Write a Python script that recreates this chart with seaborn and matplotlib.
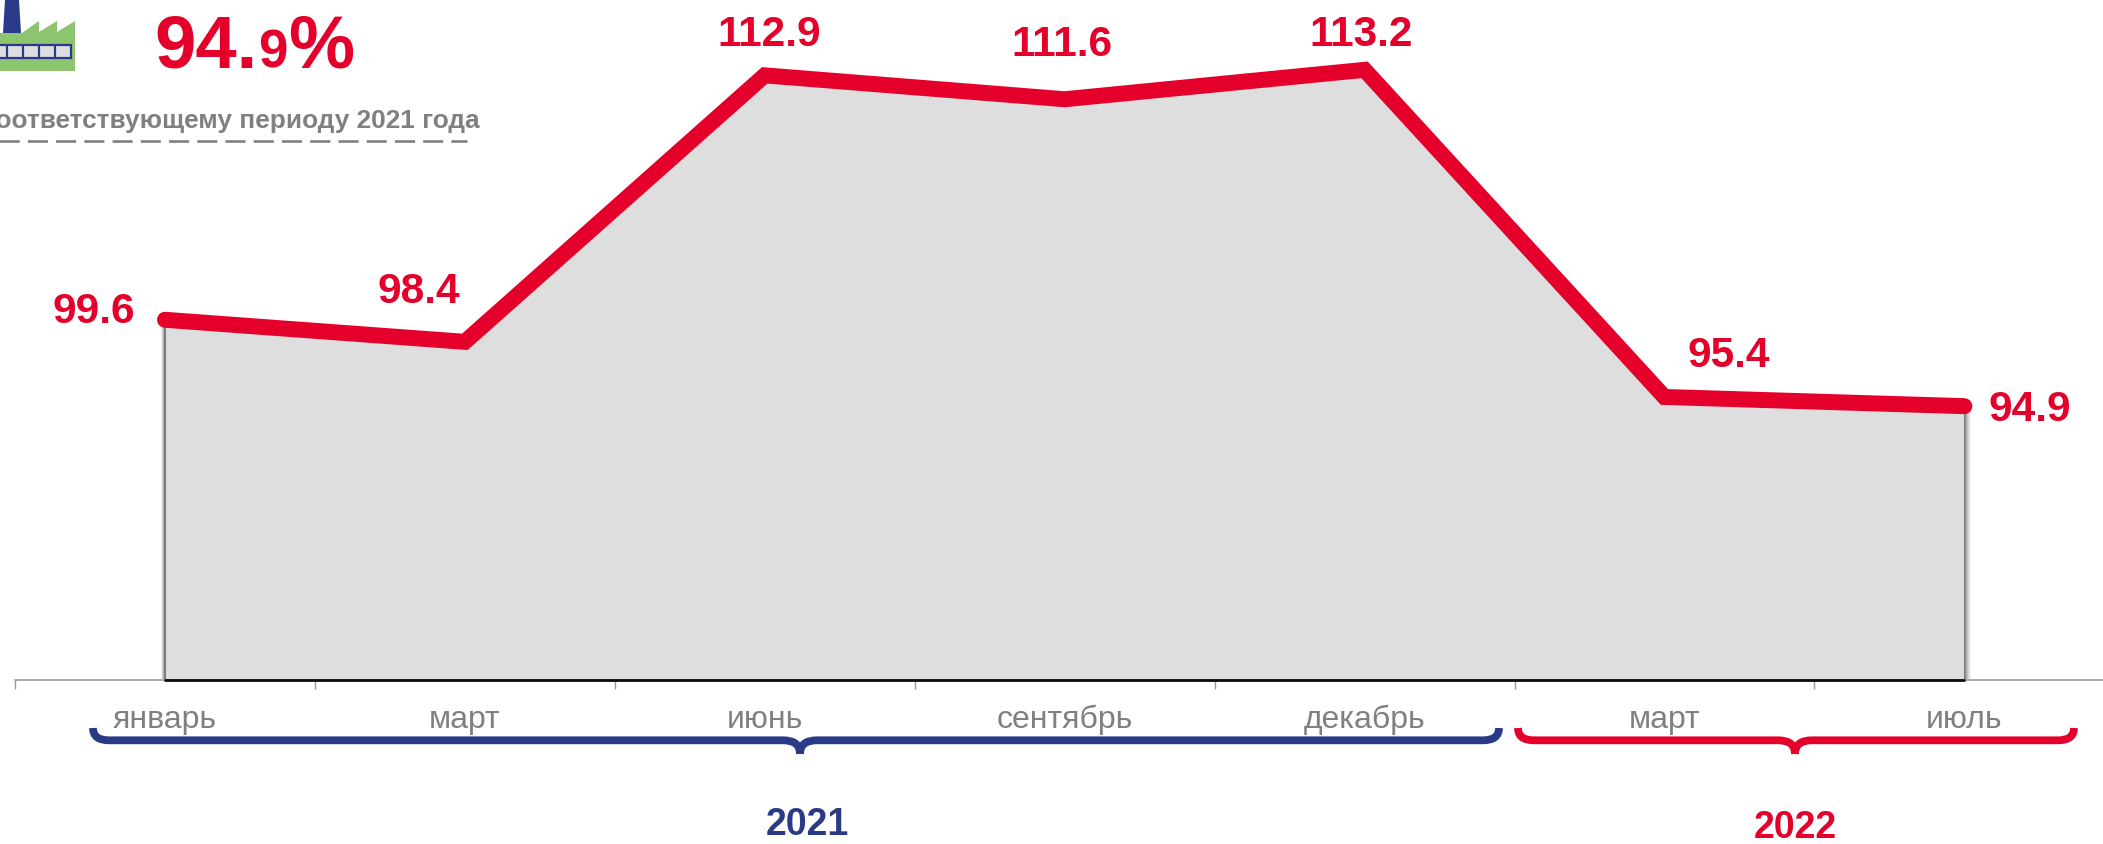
import numpy as np
import pandas as pd
import matplotlib
matplotlib.use("Agg")
import matplotlib.pyplot as plt
from matplotlib.path import Path
from matplotlib.patches import PathPatch, Polygon, Rectangle
from matplotlib.transforms import ScaledTranslation
import seaborn as sns

months = ["январь", "март", "июнь", "сентябрь", "декабрь", "март", "июль"]
values = [99.6, 98.4, 112.9, 111.6, 113.2, 95.4, 94.9]
headline_parts = ["94.", "9", "%"]
subtitle = "соответствующему периоду 2021 года"
year_labels = ["2021", "2022"]

RED = "#E4002B"
BLUE = "#2A3A86"
GRAY = "#808080"
AREA = "#DEDEDE"

sns.set_theme(style="white")
plt.rcParams["font.family"] = ["Liberation Sans", "DejaVu Sans"]

W, H = 2103, 844
fig = plt.figure(figsize=(W / 100, H / 100), dpi=100, facecolor="white")
ax = fig.add_axes([15 / W, 1 - 680 / H, (W - 15) / W, 680 / H])
ax.set_facecolor("none")

df = pd.DataFrame({"pos": np.arange(len(values)), "value": values})
ymin = 80
ax.fill_between(df["pos"], df["value"], ymin, color=AREA, lw=0, zorder=1)


def shade(i, top, steps):
    for dx, col in steps:
        tr = ax.transData + ScaledTranslation(dx / 100, 0, fig.dpi_scale_trans)
        ax.plot([i, i], [ymin, top], color=col, lw=0.8, zorder=1.5, transform=tr,
                solid_capstyle="butt", clip_on=False)


shade(0, values[0], [(-4, "#f2f2f2"), (-3, "#d5d5d5"), (-2, "#b0b0b0"), (-1, "#808080"), (0, "#808080")])
shade(len(values) - 1, values[-1], [(6, "#f5f5f5"), (5, "#e8e8e8"), (4, "#d8d8d8"), (3, "#c4c4c4"),
                                   (2, "#aeaeae"), (1, "#949494"), (0, "#7d7d7d")])
ax.plot([0, len(values) - 1], [ymin, ymin], color="#0c0c0c", lw=2, zorder=3, clip_on=False)
sns.lineplot(data=df, x="pos", y="value", ax=ax, color=RED, lw=11.5, zorder=4,
             solid_capstyle="round", solid_joinstyle="miter", errorbar=None, legend=False)

band = 299.9
ax.set_xlabel("")
ax.set_ylabel("")
ax.set_yticks([])
ax.set_xticks(np.arange(len(values) + 1) - 0.5)
ax.set_xticklabels([])
ax.set_xticks(np.arange(len(values)), labels=months, minor=True)
ax.set_xlim(-0.5, -0.5 + (W - 15) / band)
ax.set_ylim(ymin, 117)
ax.tick_params(axis="x", which="major", length=6.5, width=1, color="#9a9a9a", bottom=True)
ax.tick_params(axis="x", which="minor", length=0, pad=18, labelsize=23, labelcolor=GRAY)
for s in ["top", "left", "right"]:
    ax.spines[s].set_visible(False)
ax.spines["bottom"].set_color("#aaaaaa")
ax.spines["bottom"].set_linewidth(1.4)

offsets = [(-71, 8), (-46, 50), (4, 40), (-3, 54), (-3, 35), (64, 41), (65, -4)]
for i, (v, off) in enumerate(zip(values, offsets)):
    ax.annotate(f"{v:.1f}", xy=(i, v), xytext=(off[0] * 0.72, off[1] * 0.72),
                textcoords="offset points", ha="center", va="center",
                color=RED, fontsize=30.5, fontweight="bold", zorder=5, annotation_clip=False)

# overlay in pixel coordinates for decorations
ov = fig.add_axes([0, 0, 1, 1], facecolor="none")
ov.set_xlim(0, W)
ov.set_ylim(H, 0)
ov.axis("off")


def brace(x0, x1, xc, color):
    y0, y1, yt = 728, 740.3, 754
    left = [(x0 + 4, y0), (x0 + 4, y1), (x0 + 20, y1), (xc - 17, y1), (xc, y1), (xc, yt)]
    right = [(xc, yt), (xc, y1), (xc + 17, y1), (x1 - 20, y1), (x1 - 4, y1), (x1 - 4, y0)]
    codes = [Path.MOVETO, Path.CURVE3, Path.CURVE3, Path.LINETO, Path.CURVE3, Path.CURVE3]
    for v in (left, right):
        ov.add_patch(PathPatch(Path(v, codes), fill=False, edgecolor=color, lw=5.6, capstyle="butt"))


brace(89, 1503, 800, BLUE)
brace(1514, 2078, 1795, RED)
ov.text(807, 825, year_labels[0], color=BLUE, fontsize=27, fontweight="bold", ha="center", va="center")
ov.text(1795, 828, year_labels[1], color=RED, fontsize=27, fontweight="bold", ha="center", va="center")

# headline
for txt, x, size in zip(headline_parts, [154, 258, 288], [53.5, 38, 53.5]):
    ov.text(x, 67, txt, color=RED, fontsize=size, fontweight="bold", ha="left", va="baseline")

ov.text(480, 128, subtitle, color=GRAY, fontsize=18.9, fontweight="bold", ha="right", va="baseline")
ov.plot([467, -5], [140.5, 140.5], color=GRAY, lw=1.9, linestyle=(1.5, (7.6, 3.1)), solid_capstyle="butt")

# factory icon
ov.add_patch(Polygon([(3, 33), (5, 0), (19, 0), (21, 33)], closed=True, fc=BLUE, ec="none"))
ov.add_patch(Polygon([(-2, 71), (-2, 33), (22, 33), (39, 21), (39, 32), (57, 21), (57, 32),
                      (75, 21), (75, 71)], closed=True, fc="#8CC56E", ec="none"))
ov.add_patch(Rectangle((-2, 45), 73, 12.5, fc=AREA, ec=BLUE, lw=1.6))
for xd in [7, 23, 39, 55]:
    ov.plot([xd, xd], [45, 57.5], color=BLUE, lw=1.6)

fig.savefig("out.png", dpi=100, facecolor="white")
